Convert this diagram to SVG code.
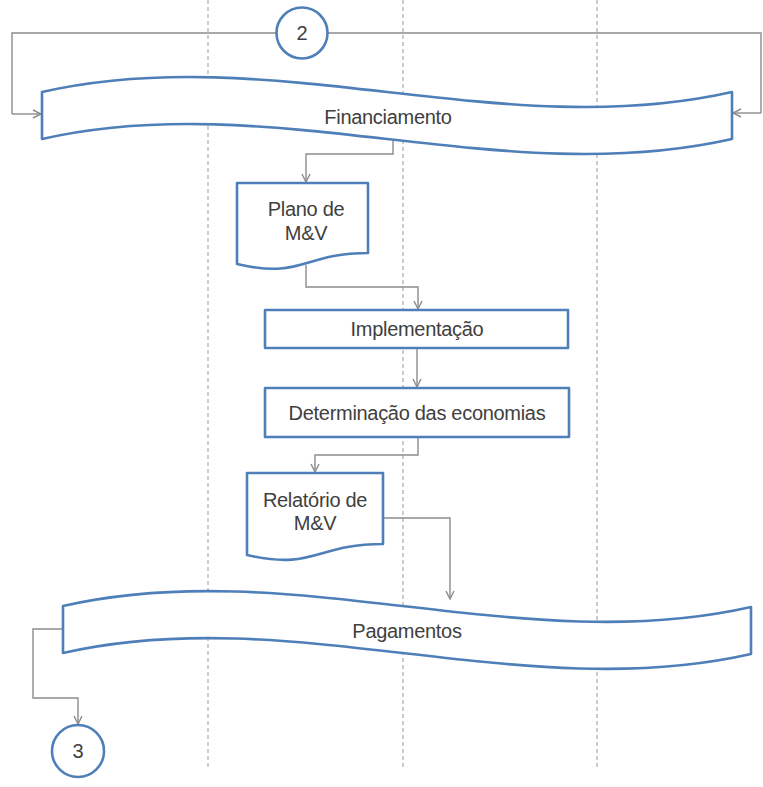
<svg xmlns="http://www.w3.org/2000/svg" width="763" height="787" viewBox="0 0 763 787">
<defs>
<style>
.lane{stroke:#b3b3b3;stroke-width:1.3;stroke-dasharray:4 3;fill:none}
.shape{fill:#ffffff;stroke:#4f7fb8;stroke-width:2.6;stroke-linejoin:round}
.conn{fill:none;stroke:#8c8c8c;stroke-width:1.4;marker-end:url(#arr)}
.conn2{fill:none;stroke:#8c8c8c;stroke-width:1.4}
.t{font-family:"Liberation Sans",Arial,sans-serif;font-size:20px;fill:#404040;text-anchor:middle;letter-spacing:-0.3px}
</style>
<marker id="arr" viewBox="0 0 10 10" refX="9" refY="5" markerWidth="10" markerHeight="10" markerUnits="userSpaceOnUse" orient="auto">
<path d="M1,1 L9,5 L1,9" fill="none" stroke="#8c8c8c" stroke-width="1.4"/>
</marker>
</defs>
<rect width="763" height="787" fill="#ffffff"/>
<g id="lanes">
<line class="lane" x1="208" y1="0" x2="208" y2="768"/>
<line class="lane" x1="403" y1="0" x2="403" y2="768"/>
<line class="lane" x1="597" y1="0" x2="597" y2="768"/>
</g>
<g id="connectors">
<path class="conn2" d="M276,33 H12 V114"/>
<path class="conn" d="M12,114 H41"/>
<path class="conn2" d="M328,33 H761 V113"/>
<path class="conn" d="M761,113 H733"/>
<path class="conn" d="M393,141 V154 H306 V182"/>
<path class="conn" d="M306,265 V287 H418 V309"/>
<path class="conn" d="M417,348 V387"/>
<path class="conn" d="M418,437 V455 H315 V472"/>
<path class="conn" d="M383,518 H450 V599"/>
<path class="conn" d="M63,629 H33 V698 H78 V724"/>
</g>
<g id="c2">
<circle class="shape" cx="302" cy="33" r="25.5"/>
<text class="t" x="302" y="40">2</text>
</g>
<g id="financiamento">
<path class="shape" d="M42,92 C272,40 502,144 732,92 V139 C502,191 272,87 42,139 Z"/>
<text class="t" x="388" y="124">Financiamento</text>
</g>
<g id="plano">
<path class="shape" d="M237,183 H368 V253 C302.5,253 302.5,279.4 237,264 Z"/>
<text class="t" x="306" y="216">Plano de</text>
<text class="t" x="306" y="240">M&amp;V</text>
</g>
<g id="implementacao">
<rect class="shape" x="265" y="310" width="303" height="38"/>
<text class="t" x="417" y="336">Implementação</text>
</g>
<g id="determinacao">
<rect class="shape" x="265" y="388" width="304" height="49"/>
<text class="t" x="417" y="420">Determinação das economias</text>
</g>
<g id="relatorio">
<path class="shape" d="M247,473 H383 V544 C315,544 315,570.5 247,555 Z"/>
<text class="t" x="315" y="507">Relatório de</text>
<text class="t" x="315" y="530">M&amp;V</text>
</g>
<g id="pagamentos">
<path class="shape" d="M63,606 C292,554 522,659 751,607 V654 C522,706 292,601 63,653 Z"/>
<text class="t" x="407" y="638">Pagamentos</text>
</g>
<g id="c3">
<circle class="shape" cx="78" cy="751" r="26"/>
<text class="t" x="78" y="758">3</text>
</g>
</svg>
